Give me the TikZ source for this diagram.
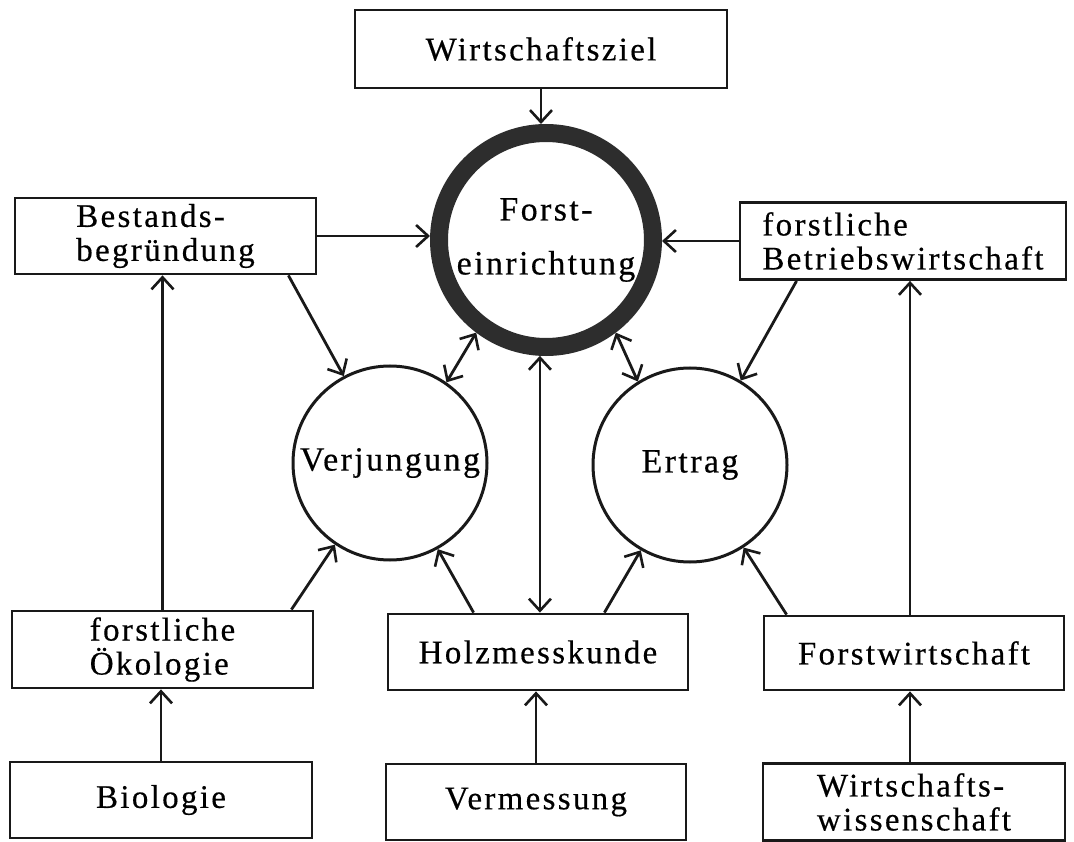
\documentclass[tikz,border=0pt]{standalone}
\usepackage{fontspec}
\setmainfont{Liberation Serif}[LetterSpace=7,FakeBold=0.4]
\usetikzlibrary{arrows.meta}
\definecolor{ink}{RGB}{25,25,25}
\definecolor{ring}{RGB}{45,45,45}
\begin{document}
\begin{tikzpicture}[x=1pt,y=-1pt,
  box/.style={draw=ink, line width=2.8pt, inner sep=0pt, align=left,
    font=\fontsize{33}{34}\selectfont},
  circ/.style={draw=ink, circle, line width=3pt, inner sep=0pt,
    font=\fontsize{34}{30}\selectfont},
  arr/.style={draw=ink, line width=2.8pt,
    -{Straight Barb[length=12pt,width=22pt,line width=2.6pt]}},
  darr/.style={draw=ink, line width=2.8pt,
    {Straight Barb[length=12pt,width=22pt,line width=2.6pt]}-{Straight Barb[length=12pt,width=22pt,line width=2.6pt]}}
]
\useasboundingbox (0,0) rectangle (1074,842);
\fill[white] (0,0) rectangle (1074,842);

% boxes
\node[box, minimum width=372pt, minimum height=78pt] (ziel) at (541,49) {Wirtschaftsziel};
\node[box, minimum width=301pt, minimum height=76pt] (bestand) at (165.5,236) {Bestands-\\begründung};
\node[box, minimum width=326pt, minimum height=77pt] (betrieb) at (903,241) {forstliche\\Betriebswirtschaft};
\node[box, minimum width=301pt, minimum height=77pt] (oekol) at (162.5,649.5) {forstliche\\Ökologie};
\node[box, minimum width=300pt, minimum height=76pt] (holz) at (538,652) {Holzmesskunde};
\node[box, minimum width=300pt, minimum height=74pt] (fwirt) at (914,653) {Forstwirtschaft};
\node[box, minimum width=302pt, minimum height=76pt] (bio) at (161,800) {Biologie};
\node[box, minimum width=300pt, minimum height=76pt] (verm) at (536,802) {Vermessung};
\node[box, minimum width=302pt, minimum height=77pt] (wiss) at (914,802) {Wirtschafts-\\wissenschaft};

% circles
\node[circ, draw=ring, line width=18pt, minimum size=214pt, align=center,
  font=\fontsize{34}{54}\selectfont] (fe) at (546,240) {Forst-\\einrichtung};
\node[circ, minimum size=194pt] (verj) at (390,463) {Verjungung};
\node[circ, minimum size=194pt] (ertrag) at (690,465) {Ertrag};

% connectors
\draw[arr] (ziel.south) -- (ziel.south |- fe.north);
\draw[arr] (bestand.east) -- (bestand.east -| fe.west);
\draw[arr] (betrieb.west) -- (betrieb.west -| fe.east);
\draw[arr] ([xshift=-29pt]bestand.south east) -- (verj.118);
\draw[arr] ([xshift=58pt]betrieb.south west) -- (ertrag.59);
\draw[darr] (fe.233) -- (verj.55);
\draw[darr] (fe.-53) -- (ertrag.122);
\draw[darr] (fe.267) -- (fe.267 |- holz.north);
\draw[arr] ([xshift=87pt]holz.north west) -- (verj.-61);
\draw[arr] ([xshift=-85pt]holz.north east) -- (ertrag.-120);
\draw[arr] (oekol.north) -- (oekol.north |- bestand.south);
\draw[arr] ([xshift=-23pt]oekol.north east) -- (verj.-124);
\draw[arr] ([xshift=-4pt]fwirt.north) -- ([xshift=-4pt]fwirt.north |- betrieb.south);
\draw[arr] ([xshift=24pt]fwirt.north west) -- (ertrag.-57);
\draw[arr] (bio.north) -- (bio.north |- oekol.south);
\draw[arr] (verm.north) -- (verm.north |- holz.south);
\draw[arr] ([xshift=-4pt]wiss.north) -- ([xshift=-4pt]wiss.north |- fwirt.south);
\end{tikzpicture}
\end{document}
